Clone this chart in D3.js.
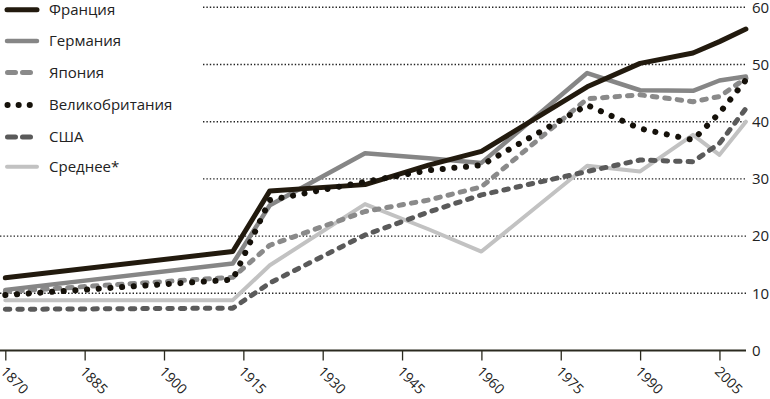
<!DOCTYPE html>
<html>
<head>
<meta charset="utf-8">
<script src="https://cdn.jsdelivr.net/npm/d3@7"></script>
<style>
  body { margin: 0; background: #fff; }
  svg { display: block; font-family: "Open Sans", "Noto Sans", sans-serif; }
</style>
</head>
<body>
<div id="chart"></div>
<script>
const WIDTH = 770;
const HEIGHT = 399;

// данные
const years = [1870, 1913, 1920, 1938, 1950, 1960, 1980, 1990, 2000, 2005, 2010];
const france = [12.7, 17.3, 27.9, 29.0, 32.4, 34.8, 46.1, 50.2, 52.0, 54.0, 56.2];
const germany = [10.6, 15.2, 25.4, 34.5, 33.6, 32.8, 48.5, 45.5, 45.4, 47.2, 47.9];
const japan = [10.3, 12.8, 18.4, 24.3, 26.3, 28.6, 44.0, 44.7, 43.5, 44.4, 47.6];
const uk = [9.7, 12.4, 26.3, 29.5, 31.5, 32.4, 42.9, 38.8, 36.8, 41.5, 47.3];
const usa = [7.2, 7.4, 11.8, 20.2, 24.2, 27.2, 31.3, 33.3, 33.0, 36.2, 42.3];
const average = [8.8, 8.8, 14.9, 25.6, 21.2, 17.3, 32.3, 31.3, 37.7, 34.2, 40.0];

const seriesNames = ['Франция', 'Германия', 'Япония', 'Великобритания', 'США', 'Среднее*'];
const xTicks = [1870, 1885, 1900, 1915, 1930, 1945, 1960, 1975, 1990, 2005];
const yTicks = [0, 10, 20, 30, 40, 50, 60];

const styles = {
  'Франция': { color: '#221a0e', width: 5, dash: null, cap: 'round' },
  'Германия': { color: '#868686', width: 4.5, dash: null, cap: 'round' },
  'Япония': { color: '#8a8a8a', width: 5, dash: '4.5,8', cap: 'round' },
  'Великобритания': { color: '#15110a', width: 6, dash: '0.1,11.6', cap: 'round' },
  'США': { color: '#5a5a5a', width: 5, dash: '4.5,8', cap: 'round' },
  'Среднее*': { color: '#c2c2c2', width: 4, dash: null, cap: 'round' }
};

const series = [
  { name: 'Франция', values: france },
  { name: 'Германия', values: germany },
  { name: 'Япония', values: japan },
  { name: 'Великобритания', values: uk },
  { name: 'США', values: usa },
  { name: 'Среднее*', values: average }
];

const svg = d3.select('#chart')
  .append('svg')
  .attr('width', WIDTH)
  .attr('height', HEIGHT);

const x = d3.scaleLinear().domain([1870, 2010]).range([5.3, 745.9]);
const y = d3.scaleLinear().domain([0, 60]).range([350.5, 7.3]);

// сетка (верхние линии обрезаны легендой)
svg.append('g')
  .selectAll('line')
  .data(yTicks.filter(d => d > 0))
  .join('line')
  .attr('x1', d => d >= 30 ? 203 : 0)
  .attr('x2', 746)
  .attr('y1', d => y(d))
  .attr('y2', d => y(d))
  .attr('stroke', '#222')
  .attr('stroke-width', 1.4)
  .attr('stroke-dasharray', '1.4,2');

// подписи оси Y справа
svg.append('g')
  .selectAll('text')
  .data(yTicks)
  .join('text')
  .attr('x', 752)
  .attr('y', d => y(d))
  .attr('dy', '0.35em')
  .attr('font-size', 15)
  .attr('fill', '#222')
  .text(d => d);

// ось X
const xAxis = svg.append('g')
  .attr('transform', `translate(0,${y(0)})`)
  .call(d3.axisBottom(x).tickValues(xTicks).tickFormat(d3.format('d')).tickSize(10).tickSizeOuter(0));

xAxis.select('.domain').remove();
xAxis.append('line')
  .attr('x1', 0)
  .attr('x2', 746)
  .attr('stroke', '#2b2a1f')
  .attr('stroke-width', 2);
xAxis.selectAll('.tick line').attr('stroke', '#2b2a1f').attr('stroke-width', 1.3);
xAxis.selectAll('.tick text')
  .attr('font-size', 14)
  .attr('fill', '#222')
  .attr('font-family', '"Open Sans", sans-serif')
  .attr('text-anchor', 'start')
  .attr('y', 0)
  .attr('dy', 0)
  .attr('transform', 'translate(-6,22) rotate(45)');

// линии
const line = d3.line()
  .x((d, i) => x(years[i]))
  .y(d => y(d));

const drawOrder = ['Среднее*', 'США', 'Япония', 'Германия', 'Франция', 'Великобритания'];
svg.append('g')
  .selectAll('path')
  .data(drawOrder.map(n => series.find(s => s.name === n)))
  .join('path')
  .attr('d', d => line(d.values))
  .attr('fill', 'none')
  .attr('stroke', d => styles[d.name].color)
  .attr('stroke-width', d => styles[d.name].width)
  .attr('stroke-dasharray', d => styles[d.name].dash)
  .attr('stroke-linecap', d => styles[d.name].cap)
  .attr('stroke-linejoin', 'round');

// легенда
const legendY = [9.8, 41, 72.5, 105, 137, 166.7];
const legend = svg.append('g')
  .selectAll('g')
  .data(seriesNames)
  .join('g')
  .attr('transform', (d, i) => `translate(0,${legendY[i]})`);

legend.append('line')
  .attr('x1', d => styles[d].dash ? 7.5 : 7)
  .attr('x2', 37)
  .attr('stroke', d => styles[d].color)
  .attr('stroke-width', d => styles[d].width)
  .attr('stroke-dasharray', d => d === 'Великобритания' ? '0.1,11' : (styles[d].dash ? '8,7' : null))
  .attr('stroke-linecap', 'round');

legend.append('text')
  .attr('x', 49)
  .attr('dy', '0.35em')
  .attr('font-size', 15)
  .attr('fill', '#222')
  .text(d => d);
</script>
</body>
</html>
